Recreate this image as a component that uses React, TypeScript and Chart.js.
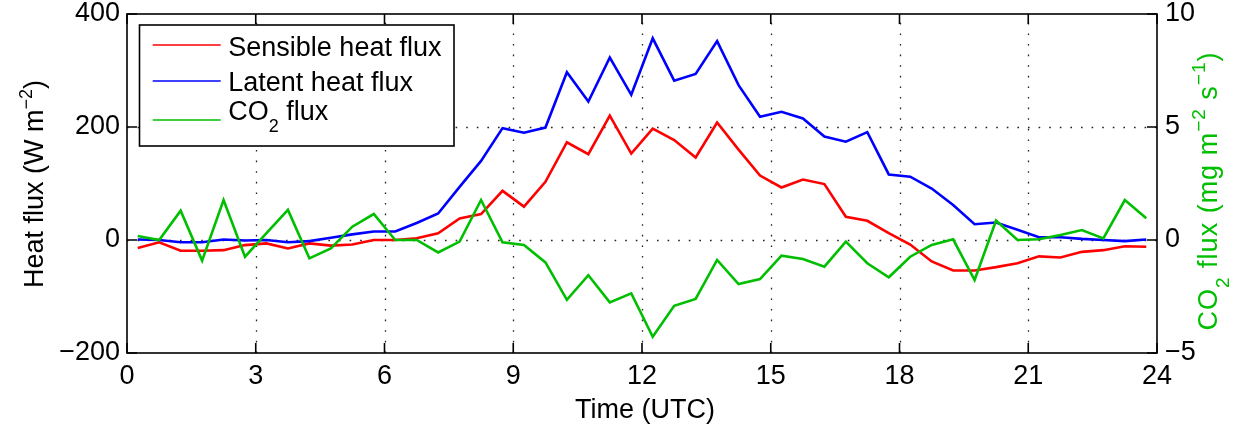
import React, { useEffect, useRef } from "react";
import { Chart, registerables } from "chart.js";

Chart.register(...registerables);

// ---- Data ----
const hours = [
  0.25, 0.75, 1.25, 1.75, 2.25, 2.75, 3.25, 3.75, 4.25, 4.75, 5.25, 5.75,
  6.25, 6.75, 7.25, 7.75, 8.25, 8.75, 9.25, 9.75, 10.25, 10.75, 11.25, 11.75,
  12.25, 12.75, 13.25, 13.75, 14.25, 14.75, 15.25, 15.75, 16.25, 16.75, 17.25, 17.75,
  18.25, 18.75, 19.25, 19.75, 20.25, 20.75, 21.25, 21.75, 22.25, 22.75, 23.25, 23.75,
];

const sensibleHeatFlux = [
  -14, -4, -19, -19, -18, -9, -6, -15, -6, -10, -8, 0,
  0, 3, 12, 38, 46, 87, 59, 103, 173, 152, 220, 153,
  197, 177, 146, 208, 160, 114, 93, 107, 99, 41, 34, 12,
  -8, -38, -54, -54, -48, -41, -29, -31, -21, -18, -11, -12,
];

const latentHeatFlux = [
  1, 0, -4, -4, 1, -1, 0, -4, -2, 4, 10, 15,
  15, 30, 47, 94, 140, 198, 190, 199, 297, 245, 323, 257,
  357, 282, 294, 352, 274, 218, 227, 215, 183, 174, 191, 116,
  112, 91, 62, 28, 31, 18, 5, 5, 2, 0, -2, 1,
];

const co2Flux = [
  0.18, 0, 1.3, -0.91, 1.77, -0.74, 0.3, 1.33, -0.81, -0.37, 0.59, 1.15,
  0, 0, -0.55, -0.07, 1.77, -0.1, -0.22, -0.99, -2.65, -1.56, -2.76, -2.36,
  -4.28, -2.91, -2.61, -0.88, -1.95, -1.73, -0.69, -0.84, -1.18, -0.07, -1.03, -1.65,
  -0.74, -0.22, 0.03, -1.77, 0.86, 0, 0.03, 0.22, 0.44, 0.07, 1.77, 0.96,
];

const xTicks = [0, 3, 6, 9, 12, 15, 18, 21, 24];
const heatTicks = [-200, 0, 200, 400];
const co2Ticks = [-5, 0, 5, 10];

const seriesLabels = ["Sensible heat flux", "Latent heat flux", "CO2 flux"];
const seriesColors = ["#ff0000", "#0000ff", "#00bf00"];

// ---- Styling ----
const FONT_FAMILY = '"Liberation Sans", Arial, Helvetica, sans-serif';
const FONT_SIZE = 27;
const SMALL_SIZE = 19;

type Seg = { t: string; k?: "sup" | "sub" };

function fontOf(size: number) {
  return `${size}px ${FONT_FAMILY}`;
}

function richWidth(ctx: CanvasRenderingContext2D, segs: Seg[], size: number, small: number) {
  let w = 0;
  for (const s of segs) {
    ctx.font = fontOf(s.k ? small : size);
    w += ctx.measureText(s.t).width;
  }
  return w;
}

function drawRich(
  ctx: CanvasRenderingContext2D,
  segs: Seg[],
  cx: number,
  baseY: number,
  opts: {
    size: number; small: number; rise: number; drop: number; color: string;
    rotate?: boolean; align?: "center" | "left"; spacing?: number;
  }
) {
  ctx.save();
  ctx.translate(cx, baseY);
  if (opts.rotate) ctx.rotate(-Math.PI / 2);
  const sp = opts.spacing || 0;
  (ctx as any).letterSpacing = sp + "px";
  const total = richWidth(ctx, segs, opts.size, opts.small);
  let x = opts.align === "left" ? 0 : -total / 2;
  ctx.fillStyle = opts.color;
  ctx.textBaseline = "alphabetic";
  ctx.textAlign = "left";
  for (const s of segs) {
    ctx.font = fontOf(s.k ? opts.small : opts.size);
    const dy = s.k === "sup" ? -opts.rise : s.k === "sub" ? opts.drop : 0;
    ctx.fillText(s.t, x, dy);
    x += ctx.measureText(s.t).width;
  }
  ctx.restore();
}

const leftTitle: Seg[] = [{ t: "Heat flux (W m" }, { t: "\u22122", k: "sup" }, { t: ")" }];
const rightTitle: Seg[] = [
  { t: "CO" },
  { t: "2", k: "sub" },
  { t: " flux (mg m" },
  { t: "\u22122", k: "sup" },
  { t: " s" },
  { t: "\u22121", k: "sup" },
  { t: ")" },
];
const bottomTitle: Seg[] = [{ t: "Time (UTC)" }];
const legendSegs: Seg[][] = [
  [{ t: "Sensible heat flux" }],
  [{ t: "Latent heat flux" }],
  [{ t: "CO" }, { t: "2", k: "sub" }, { t: " flux" }],
];

const fmt = (v: number) => (v < 0 ? "\u2212" + Math.abs(v) : String(v));

const framePlugin = {
  id: "matlabFrame",
  beforeDatasetsDraw(chart: any) {
    const { ctx, chartArea: a, scales } = chart;
    ctx.save();
    ctx.strokeStyle = "#222";
    ctx.lineWidth = 1.3;
    ctx.setLineDash([1.6, 9]);
    for (const v of xTicks.slice(1, -1)) {
      const px = Math.round(scales.x.getPixelForValue(v)) + 0.5;
      ctx.beginPath();
      ctx.moveTo(px, a.bottom);
      ctx.lineTo(px, a.top);
      ctx.stroke();
    }
    for (const v of heatTicks.slice(1, -1)) {
      const py = Math.round(scales.y.getPixelForValue(v)) + 0.5;
      ctx.beginPath();
      ctx.moveTo(a.left, py);
      ctx.lineTo(a.right, py);
      ctx.stroke();
    }
    ctx.restore();
  },
  afterDatasetsDraw(chart: any) {
    const { ctx, chartArea: a, scales } = chart;
    ctx.save();
    ctx.strokeStyle = "#000";
    ctx.lineWidth = 1.6;
    ctx.setLineDash([]);
    const tl = 10;
    // inward ticks
    ctx.beginPath();
    for (const v of xTicks) {
      const px = scales.x.getPixelForValue(v);
      ctx.moveTo(px, a.bottom);
      ctx.lineTo(px, a.bottom - tl);
      ctx.moveTo(px, a.top);
      ctx.lineTo(px, a.top + tl);
    }
    for (const v of heatTicks) {
      const py = scales.y.getPixelForValue(v);
      ctx.moveTo(a.left, py);
      ctx.lineTo(a.left + tl, py);
    }
    for (const v of co2Ticks) {
      const py = scales.y1.getPixelForValue(v);
      ctx.moveTo(a.right, py);
      ctx.lineTo(a.right - tl, py);
    }
    ctx.stroke();
    // box
    ctx.strokeRect(a.left, a.top, a.right - a.left, a.bottom - a.top);

    // legend
    const lx = a.left + 12.5;
    const ly = a.top + 11;
    const lw = 314.5;
    const lh = 121;
    ctx.fillStyle = "#fff";
    ctx.fillRect(lx, ly, lw, lh);
    ctx.lineWidth = 1.6;
    ctx.strokeStyle = "#000";
    ctx.strokeRect(lx, ly, lw, lh);
    const lineYs = [31, 67, 106];
    const textYs = [42, 76.7, 106];
    for (let i = 0; i < 3; i++) {
      ctx.beginPath();
      ctx.strokeStyle = seriesColors[i];
      ctx.lineWidth = 1.6;
      ctx.moveTo(a.left + 25.7, a.top + lineYs[i]);
      ctx.lineTo(a.left + 93.7, a.top + lineYs[i]);
      ctx.stroke();
      drawRich(ctx, legendSegs[i], a.left + 101.3, a.top + textYs[i], {
        size: FONT_SIZE, small: 18, rise: 11, drop: 12, color: "#000", align: "left",
      });
    }
    ctx.restore();

    // axis titles
    const midY = (a.top + a.bottom) / 2;
    drawRich(ctx, leftTitle, 43, midY + 0.5, { size: FONT_SIZE, small: 18, rise: 11, drop: 12, color: "#000", rotate: true });
    drawRich(ctx, rightTitle, a.right + 60, midY + 7.5, {
      size: FONT_SIZE, small: SMALL_SIZE, rise: 12, drop: 12, color: "#00bf00", rotate: true, spacing: 1,
    });
    drawRich(ctx, bottomTitle, (a.left + a.right) / 2 + 3, 418, { size: FONT_SIZE, small: 18, rise: 11, drop: 12, color: "#000" });
  },
};

export default function App() {
  const ref = useRef<HTMLCanvasElement | null>(null);

  useEffect(() => {
    const canvas = ref.current;
    if (!canvas) return;
    const tickFont = { family: FONT_FAMILY, size: FONT_SIZE, lineHeight: 1 };
    const mk = (ys: number[]) => hours.map((h, i) => ({ x: h, y: ys[i] }));
    const chart = new Chart(canvas, {
      type: "line",
      data: {
        datasets: [
          { label: seriesLabels[0], data: mk(sensibleHeatFlux), borderColor: seriesColors[0], borderWidth: 2.6, pointRadius: 0, yAxisID: "y", order: 2, tension: 0 },
          { label: seriesLabels[1], data: mk(latentHeatFlux), borderColor: seriesColors[1], borderWidth: 2.6, pointRadius: 0, yAxisID: "y", order: 1, tension: 0 },
          { label: seriesLabels[2], data: mk(co2Flux), borderColor: seriesColors[2], borderWidth: 2.6, pointRadius: 0, yAxisID: "y1", order: 0, tension: 0 },
        ],
      },
      options: {
        responsive: false,
        animation: false,
        events: [],
        layout: { padding: { top: 14, left: 0, right: 0, bottom: 0 } },
        plugins: { legend: { display: false }, tooltip: { enabled: false }, title: { display: false } },
        scales: {
          x: {
            type: "linear",
            min: 0,
            max: 24,
            grid: { display: false, drawTicks: false },
            border: { display: false },
            afterBuildTicks: (s: any) => { s.ticks = xTicks.map((v) => ({ value: v })); },
            afterFit: (s: any) => { s.height = 72; s.paddingLeft = 0; s.paddingRight = 0; },
            ticks: { font: tickFont, color: "#000", padding: 10, maxRotation: 0, autoSkip: false, callback: (v: any) => fmt(Number(v)) },
          },
          y: {
            type: "linear",
            position: "left",
            min: -200,
            max: 400,
            grid: { display: false, drawTicks: false },
            border: { display: false },
            afterBuildTicks: (s: any) => { s.ticks = heatTicks.map((v) => ({ value: v })); },
            afterFit: (s: any) => { s.width = 127; s.paddingTop = 0; s.paddingBottom = 0; },
            ticks: { font: tickFont, color: "#000", padding: 7, autoSkip: false, callback: (v: any) => fmt(Number(v)) },
          },
          y1: {
            type: "linear",
            position: "right",
            min: -5,
            max: 10,
            grid: { display: false, drawTicks: false },
            border: { display: false },
            afterBuildTicks: (s: any) => { s.ticks = co2Ticks.map((v) => ({ value: v })); },
            afterFit: (s: any) => { s.width = 86; s.paddingTop = 0; s.paddingBottom = 0; },
            ticks: { font: tickFont, color: "#000", padding: 8, autoSkip: false, callback: (v: any) => fmt(Number(v)) },
          },
        },
      } as any,
      plugins: [framePlugin],
    });
    return () => chart.destroy();
  }, []);

  return (
    <div style={{ position: "fixed", left: 0, top: 0, width: 1243, height: 425, background: "#fff" }}>
      <canvas ref={ref} width={1243} height={425} style={{ display: "block", width: 1243, height: 425 }} />
    </div>
  );
}
